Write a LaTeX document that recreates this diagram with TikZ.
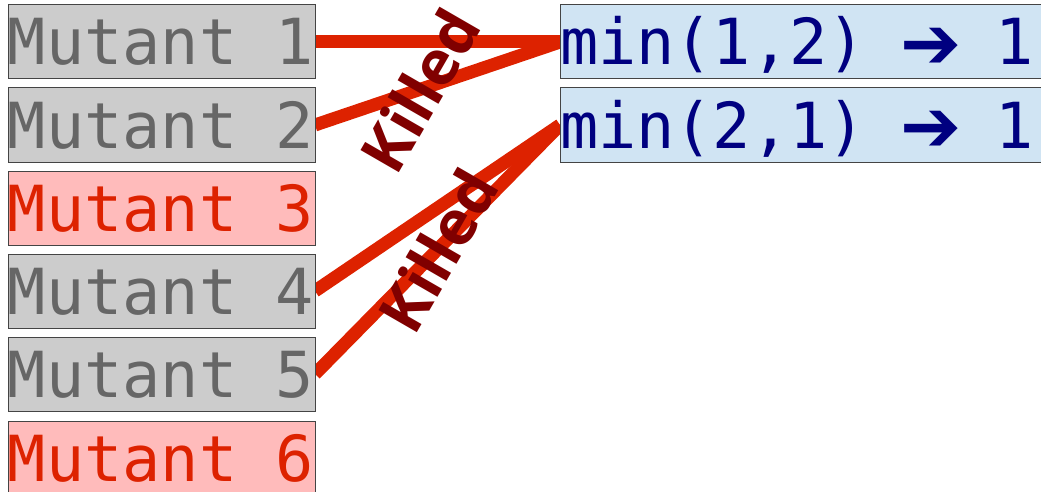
\documentclass[tikz,border=0pt]{standalone}
\usepackage{fontspec}
\setmainfont{DejaVu Sans}
\newfontfamily\monofont{DejaVu Sans Mono}
\newfontfamily\symfont{DejaVu Sans}
\newfontfamily\labelfont{Open Sans}
\usetikzlibrary{backgrounds}
\newcommand\msp{\hspace*{0.602em}}
\newcommand\bigarrow{\makebox[0.838em]{\raisebox{-0.05em}{\scalebox{1.15}{\symfont\bfseries ➔}}}}
\definecolor{boxgray}{HTML}{CCCCCC}
\definecolor{txtgray}{HTML}{666666}
\definecolor{boxpink}{HTML}{FFBBBB}
\definecolor{txtred}{HTML}{DD2200}
\definecolor{boxblue}{HTML}{D0E4F3}
\definecolor{txtblue}{HTML}{000080}
\definecolor{edgered}{HTML}{DD2200}
\definecolor{killcol}{HTML}{800000}
\definecolor{bordergray}{HTML}{444444}
\begin{document}
\begin{tikzpicture}[x=1pt,y=-1pt,
  box/.style={rectangle, inner sep=0pt, outer sep=0pt, line width=1pt, draw=bordergray,
    text width=307pt, align=left, text height=60pt, text depth=14pt, anchor=north west,
    font=\monofont\fontsize{63.5}{63.5}\selectfont},
  alive/.style={box, fill=boxgray, text=txtgray},
  survivor/.style={box, fill=boxpink, text=txtred},
  testbox/.style={box, fill=boxblue, text=txtblue, text width=520pt},
  kill/.style={draw=edgered, line width=13pt},
  killlabel/.style={anchor=base, rotate=60, text=killcol, inner sep=0pt,
    font=\labelfont\bfseries\fontsize{62}{62}\selectfont}]
\useasboundingbox (0,0) rectangle (1041,492);
\clip (0,0) rectangle (1041,492);
\node[alive] (m1) at (8,5) {Mutant\msp 1};
\node[alive] (m2) at (8,88) {Mutant\msp 2};
\node[survivor] (m3) at (8,171) {Mutant\msp 3};
\node[alive] (m4) at (8,254) {Mutant\msp 4};
\node[alive] (m5) at (8,337) {Mutant\msp 5};
\node[survivor] (m6) at (8,421) {Mutant\msp 6};
\node[testbox] (t1) at (560,5) {min(1,2)\msp\bigarrow\msp 1};
\node[testbox] (t2) at (560,88) {min(2,1)\msp\bigarrow\msp 1};
\begin{scope}[on background layer]
\draw[kill] (m1.east) -- (t1.west);
\draw[kill] (m2.east) -- (t1.west);
\draw[kill] (m4.east) -- (t2.west);
\draw[kill] (m5.east) -- (t2.west);
\end{scope}
\node[killlabel] (k1) at (440,102) {Killed};
\node[killlabel] (k2) at (458,262) {Killed};
\end{tikzpicture}
\end{document}
